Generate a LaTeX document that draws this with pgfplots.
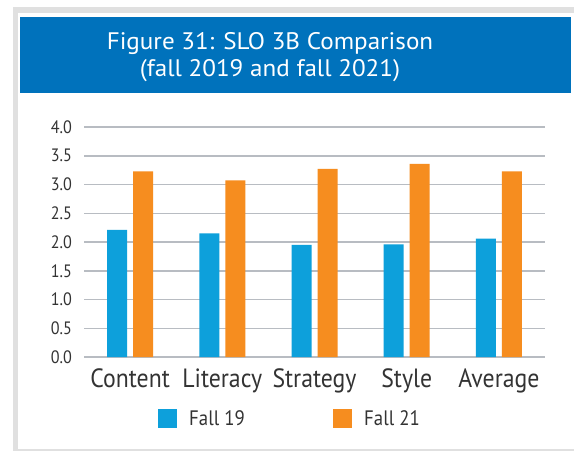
\documentclass[border=0pt]{standalone}
\usepackage{fontspec}
\setmainfont{PT Sans}[FakeStretch=0.9]
\newfontfamily\titlefont{PT Sans}[FakeStretch=1.05]
\usepackage{pgfplots}
\pgfplotsset{compat=1.18}
\definecolor{fallblue}{RGB}{13,160,219}
\definecolor{fallorange}{RGB}{246,141,31}
\definecolor{titleblue}{RGB}{0,114,188}
\definecolor{gridgray}{RGB}{184,188,194}
\definecolor{framegray}{RGB}{224,224,224}
\definecolor{txt}{RGB}{51,51,51}

\begin{document}
\begin{tikzpicture}[x=1bp,y=1bp]
\useasboundingbox (0,0) rectangle (574,-451);
% frame and title band
\fill[framegray] (13,-7) rectangle (574,-451);
\fill[white] (18,-13) rectangle (574,-449);
\fill[titleblue] (20,-17) rectangle (571,-93);
\node[anchor=base, text=white, inner sep=0pt, font=\titlefont\fontsize{24}{24}\selectfont] at (270,-50) {Figure 31: SLO 3B Comparison};
\node[anchor=base, text=white, inner sep=0pt, font=\titlefont\fontsize{24}{24}\selectfont] at (270,-77) {(fall 2019 and fall 2021)};

\begin{axis}[
  at={(84bp,-357bp)}, anchor=south west,
  scale only axis, width=461bp, height=230bp,
  xmin=-0.5, xmax=4.5, ymin=0, ymax=4,
  ybar=6bp, bar width=20bp,
  axis line style={draw=none},
  ymajorgrids, grid style={gridgray, line width=1.5bp},
  major tick length=0pt,
  ytick={0,0.5,1,1.5,2,2.5,3,3.5,4},
  xtick={0,1,2,3,4},
  xticklabels={Content,Literacy,Strategy,Style,Average},
  /pgf/number format/assume math mode=true,
  yticklabel style={/pgf/number format/fixed, /pgf/number format/precision=1,
    /pgf/number format/fixed zerofill},
  tick label style={text=txt, inner sep=0pt},
  yticklabel style={font=\fontsize{18}{18}\selectfont, anchor=east, xshift=-12bp},
  xticklabel style={font=\fontsize{26.5}{26.5}\selectfont, anchor=base, yshift=-30bp},
  legend columns=2,
  legend image code/.code={\fill[#1] (0bp,-9.5bp) rectangle (19bp,9.5bp);},
  legend cell align=left,
  legend style={draw=none, fill=none, at={(0.1605,-0.267)}, anchor=west,
    inner sep=0pt, font=\fontsize{21}{21}\selectfont, text=txt,
    /tikz/every odd column/.append style={column sep=12bp},
    nodes={inner sep=0pt}},
]
\addplot[fill=fallblue, draw=none] coordinates {
  (0,2.21) (1,2.15) (2,1.95) (3,1.96) (4,2.06)
};
\addlegendentry{\makebox[144bp][l]{Fall 19}}
\addplot[fill=fallorange, draw=none] coordinates {
  (0,3.23) (1,3.07) (2,3.27) (3,3.36) (4,3.23)
};
\addlegendentry{Fall 21}
\end{axis}
\end{tikzpicture}
\end{document}
